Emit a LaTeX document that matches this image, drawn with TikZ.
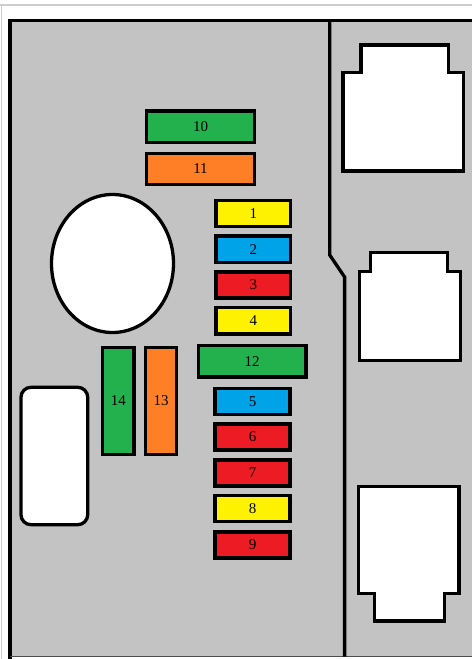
\documentclass[tikz,border=0pt]{standalone}
\usepackage{fontspec}
\setmainfont{Liberation Serif}
\definecolor{panel}{HTML}{C3C3C3}
\definecolor{rim}{HTML}{CDCDCD}
\definecolor{fgreen}{HTML}{22B14C}
\definecolor{forange}{HTML}{FF7F27}
\definecolor{fyellow}{HTML}{FFF200}
\definecolor{fblue}{HTML}{00A2E8}
\definecolor{fred}{HTML}{ED1C24}
\tikzset{
  edge/.style={draw=black,line width=3.3pt,miter limit=10},
  socket/.style={edge,fill=white},
  fusebox/.style={draw=black,line width=3.3pt,outer sep=0pt,inner sep=0pt,font=\fontsize{15}{15}\selectfont,text=black!92!black}
}
\newcommand{\fusedraw}[7]{%
  \pgfmathsetmacro{\fw}{#4-#2}\pgfmathsetmacro{\fh}{#5-#3}%
  \node[fusebox,fill=#6,minimum width=\fw pt,minimum height=\fh pt] (#1) at ({(#2+#4)/2},{(#3+#5)/2}) {#7};}
\begin{document}
\begin{tikzpicture}[x=1pt,y=-1pt]
\useasboundingbox (0,0) rectangle (472,659);
\fill[white] (0,0) rectangle (472,659);
% scan rims
\fill[rim] (0,4) rectangle (472,6);
\fill[rim] (1,4) rectangle (2,659);
% panel
\fill[panel] (10,20.5) rectangle (472,656.5);
\draw[black,line width=3.6pt] (10,659) -- (10,20.5) -- (472,20.5);
\draw[black!70,line width=1pt] (10,656.8) -- (472,656.8);
% divider
\draw[edge] (329.7,20.5) -- (329.7,255) -- (344.6,277) -- (344.6,656.5);
% connectors
\draw[socket] (343,72.7) -- (361,72.7) -- (361,45) -- (448.3,45) -- (448.3,72.7) -- (463.5,72.7) -- (463.5,171) -- (343,171) -- cycle;
\draw[socket] (359.3,271.7) -- (370.8,271.7) -- (370.8,252.5) -- (447.3,252.5) -- (447.3,271.7) -- (460.7,271.7) -- (460.7,360.7) -- (359.3,360.7) -- cycle;
\draw[socket] (358.3,486.7) -- (459,486.7) -- (459,593.7) -- (444.3,593.7) -- (444.3,621) -- (374.8,621) -- (374.8,593.7) -- (358.3,593.7) -- cycle;
% round openings
\draw[socket] (112.5,263.5) ellipse [x radius=61,y radius=69];
\draw[socket,rounded corners=10pt] (21,387.3) rectangle (87.7,524.7);
% fuses
\fusedraw{f10}{146.7}{111}{254.3}{142.3}{fgreen}{10}
\fusedraw{f11}{146.7}{153.3}{254.3}{184.3}{forange}{11}
\fusedraw{f1}{216}{200.7}{290.7}{226.7}{fyellow}{1}
\fusedraw{f2}{216}{236}{290.7}{262.3}{fblue}{2}
\fusedraw{f3}{216}{272}{290.7}{298}{fred}{3}
\fusedraw{f4}{216}{307.7}{290.7}{334}{fyellow}{4}
\fusedraw{f12}{198.3}{345.8}{306}{377}{fgreen}{12}
\fusedraw{f5}{215}{388.3}{290}{414.3}{fblue}{5}
\fusedraw{f6}{215}{424}{290}{450}{fred}{6}
\fusedraw{f7}{215}{460}{290}{486}{fred}{7}
\fusedraw{f8}{215}{495.5}{290}{521.5}{fyellow}{8}
\fusedraw{f9}{215}{532}{290}{558}{fred}{9}
\fusedraw{f14}{102.7}{347.3}{134}{454.3}{fgreen}{14}
\fusedraw{f13}{145.7}{347.3}{176.7}{454.3}{forange}{13}
\end{tikzpicture}
\end{document}
